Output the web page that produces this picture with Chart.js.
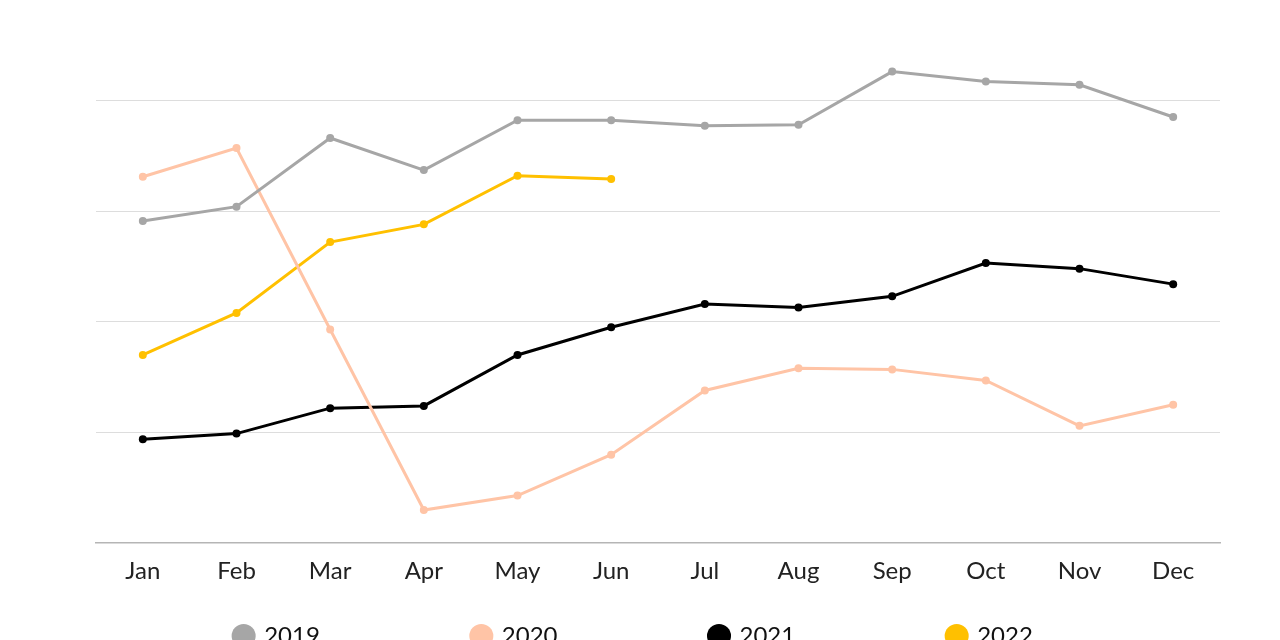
<!DOCTYPE html>
<html>
<head>
<meta charset="utf-8">
<script src="https://cdn.jsdelivr.net/npm/chart.js@4.4.1/dist/chart.umd.min.js"></script>
<style>
  html, body { margin: 0; padding: 0; background: #fff; overflow: hidden; }
  #wrap { width: 1280px; height: 778px; }
</style>
</head>
<body>
<div id="wrap"><canvas id="chart"></canvas></div>
<script>
const months = ['Jan', 'Feb', 'Mar', 'Apr', 'May', 'Jun', 'Jul', 'Aug', 'Sep', 'Oct', 'Nov', 'Dec'];
const y2019 = [29.1, 30.4, 36.6, 33.7, 38.2, 38.2, 37.7, 37.8, 42.6, 41.7, 41.4, 38.5];
const y2020 = [33.1, 35.7, 19.3, 3.0, 4.3, 8.0, 13.8, 15.8, 15.7, 14.7, 10.6, 12.5];
const y2021 = [9.4, 9.9, 12.2, 12.4, 17.0, 19.5, 21.6, 21.3, 22.3, 25.3, 24.8, 23.4];
const y2022 = [17.0, 20.8, 27.2, 28.8, 33.2, 32.9];
const gridValues = [10, 20, 30, 40];

const FONT = 'Lato, "Noto Sans", sans-serif';

// the legend row sits close under the axis labels, but with wide gaps between items
const legendNudge = {
    id: 'legendNudge',
    afterLayout(chart) {
        const lg = chart.legend;
        const dy = lg.top - 471;
        lg.top -= dy;
        lg.bottom -= dy;
        lg.left -= 24;
        lg.right -= 24;
    }
};

function series(label, data, color) {
    return {
        label: label,
        data: data,
        borderColor: color,
        backgroundColor: color,
        pointBackgroundColor: color,
        borderWidth: 3,
        pointRadius: 4,
        pointBorderWidth: 0,
        pointHoverRadius: 4,
        tension: 0,
        fill: false
    };
}

new Chart(document.getElementById('chart'), {
    type: 'line',
    data: {
        labels: months,
        datasets: [
            series('2019', y2019, '#a6a6a6'),
            series('2020', y2020, '#ffc4a6'),
            series('2021', y2021, '#000000'),
            series('2022', y2022, '#ffc000')
        ]
    },
    plugins: [legendNudge],
    options: {
        responsive: true,
        maintainAspectRatio: false,
        animation: false,
        layout: { padding: { left: 96, right: 60, top: 45, bottom: 0 } },
        plugins: {
            tooltip: { enabled: false },
            legend: {
                position: 'bottom',
                labels: {
                    usePointStyle: true,
                    pointStyle: 'circle',
                    boxWidth: 17,
                    boxHeight: 17,
                    padding: 153,
                    color: '#111',
                    font: { family: FONT, size: 24 }
                }
            }
        },
        scales: {
            x: {
                offset: true,
                grid: { display: false },
                border: { display: true, color: '#b5b5b5', width: 1.5 },
                ticks: { color: '#222', padding: 5.5, font: { family: FONT, size: 24 } }
            },
            y: {
                min: 0,
                max: 45,
                afterBuildTicks: (scale) => {
                    scale.ticks = gridValues.map(v => ({ value: v }));
                },
                ticks: { display: false },
                border: { display: false },
                grid: { color: '#dddddd', lineWidth: 1, drawTicks: false }
            }
        }
    }
});
</script>
</body>
</html>
